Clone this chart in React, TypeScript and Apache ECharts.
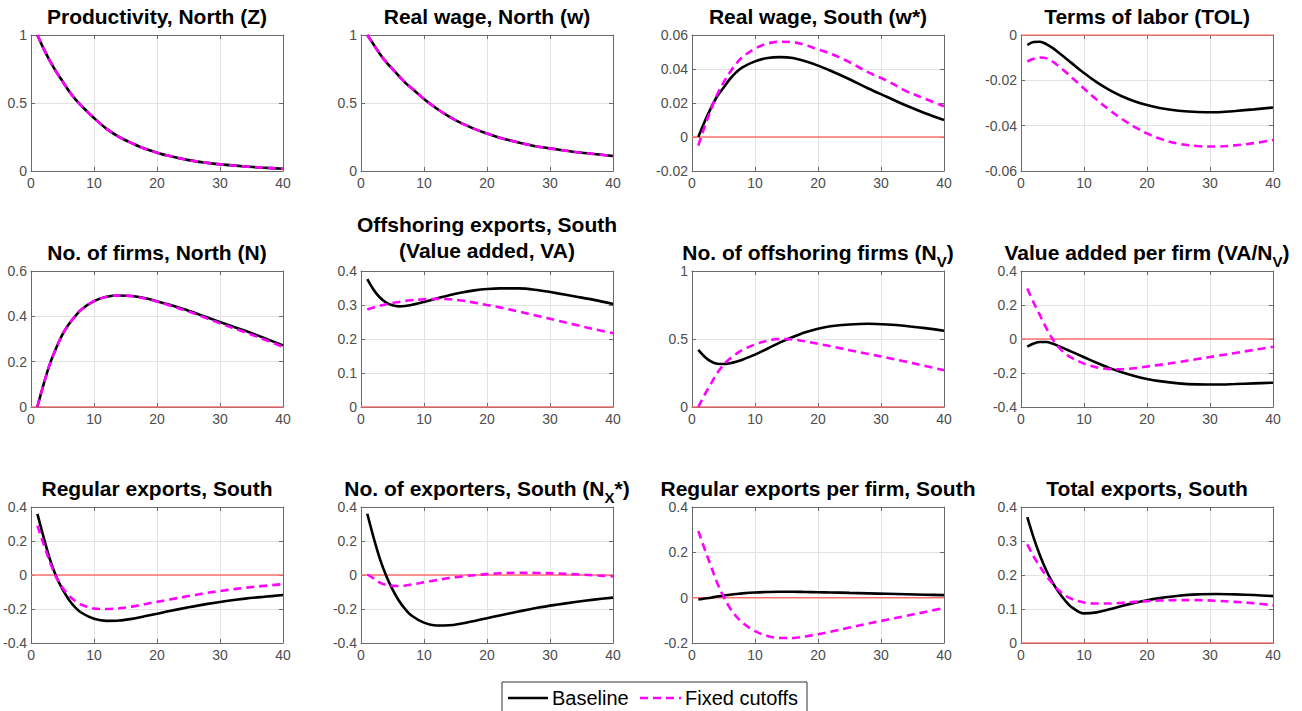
import React, { useEffect, useRef } from 'react';
import * as echarts from 'echarts';

// Quarters after the shock (sample points)
const PERIODS = [1, 2, 3, 4, 5, 6, 7, 8, 10, 12, 14, 16, 18, 20, 22, 25, 28, 31, 34, 37, 40];

const Z_BASE = [1, 0.9, 0.81, 0.73, 0.66, 0.59, 0.53, 0.48, 0.39, 0.31, 0.25, 0.205, 0.165, 0.135, 0.11, 0.08, 0.06, 0.045, 0.033, 0.024, 0.016];
const Z_FIXED = [1, 0.9, 0.81, 0.73, 0.66, 0.59, 0.53, 0.48, 0.39, 0.31, 0.25, 0.205, 0.165, 0.135, 0.11, 0.08, 0.06, 0.045, 0.033, 0.024, 0.016];

const W_BASE = [1, 0.93, 0.86, 0.8, 0.75, 0.7, 0.65, 0.61, 0.53, 0.46, 0.4, 0.35, 0.31, 0.275, 0.245, 0.21, 0.18, 0.16, 0.14, 0.125, 0.11];
const W_FIXED = [1, 0.93, 0.86, 0.8, 0.75, 0.7, 0.65, 0.61, 0.53, 0.46, 0.4, 0.35, 0.31, 0.275, 0.245, 0.21, 0.18, 0.16, 0.14, 0.125, 0.11];

const WS_BASE = [0.0, 0.009, 0.017, 0.024, 0.029, 0.034, 0.038, 0.041, 0.0445, 0.0465, 0.047, 0.0465, 0.0445, 0.042, 0.039, 0.034, 0.0285, 0.0235, 0.0185, 0.014, 0.01];
const WS_FIXED = [-0.005, 0.006, 0.016, 0.025, 0.032, 0.038, 0.043, 0.047, 0.052, 0.055, 0.056, 0.0558, 0.054, 0.0515, 0.049, 0.044, 0.038, 0.033, 0.027, 0.0225, 0.018];

const TOL_BASE = [-0.0044, -0.0031, -0.003, -0.004, -0.0057, -0.0078, -0.01, -0.0123, -0.0168, -0.0208, -0.0242, -0.027, -0.0292, -0.0309, -0.0322, -0.0334, -0.034, -0.0341, -0.0335, -0.0328, -0.032];
const TOL_FIXED = [-0.0117, -0.0105, -0.0099, -0.0102, -0.0117, -0.0138, -0.0161, -0.0186, -0.0236, -0.0285, -0.033, -0.037, -0.0405, -0.0434, -0.0457, -0.048, -0.049, -0.0492, -0.0487, -0.0477, -0.0463];

const N_BASE = [0, 0.1, 0.19, 0.26, 0.32, 0.365, 0.4, 0.43, 0.467, 0.486, 0.492, 0.49, 0.481, 0.467, 0.451, 0.425, 0.395, 0.365, 0.336, 0.305, 0.272];
const N_FIXED = [0, 0.1, 0.19, 0.26, 0.32, 0.365, 0.4, 0.43, 0.467, 0.486, 0.492, 0.489, 0.479, 0.465, 0.448, 0.421, 0.39, 0.359, 0.329, 0.298, 0.265];

const VA_BASE = [0.376, 0.345, 0.322, 0.307, 0.299, 0.296, 0.297, 0.3, 0.309, 0.319, 0.329, 0.337, 0.343, 0.347, 0.349, 0.349, 0.344, 0.335, 0.325, 0.315, 0.303];
const VA_FIXED = [0.287, 0.293, 0.298, 0.302, 0.306, 0.309, 0.312, 0.314, 0.317, 0.318, 0.317, 0.313, 0.307, 0.3, 0.293, 0.281, 0.268, 0.255, 0.242, 0.229, 0.217];

const NV_BASE = [0.42, 0.37, 0.335, 0.318, 0.316, 0.322, 0.333, 0.348, 0.385, 0.43, 0.475, 0.515, 0.55, 0.576, 0.594, 0.607, 0.612, 0.607, 0.596, 0.58, 0.561];
const NV_FIXED = [0, 0.09, 0.17, 0.25, 0.31, 0.355, 0.39, 0.42, 0.46, 0.488, 0.5, 0.497, 0.483, 0.465, 0.447, 0.418, 0.39, 0.362, 0.333, 0.302, 0.27];

const VAPF_BASE = [-0.045, -0.027, -0.018, -0.018, -0.027, -0.042, -0.058, -0.074, -0.107, -0.14, -0.17, -0.195, -0.217, -0.235, -0.248, -0.261, -0.267, -0.268, -0.265, -0.261, -0.257];
const VAPF_FIXED = [0.297, 0.215, 0.14, 0.065, 0.0, -0.05, -0.085, -0.11, -0.145, -0.167, -0.177, -0.178, -0.172, -0.162, -0.152, -0.136, -0.118, -0.1, -0.082, -0.064, -0.046];

const RX_BASE = [0.36, 0.22, 0.09, -0.01, -0.085, -0.145, -0.19, -0.222, -0.258, -0.27, -0.268, -0.258, -0.243, -0.228, -0.212, -0.19, -0.17, -0.153, -0.139, -0.128, -0.118];
const RX_FIXED = [0.29, 0.18, 0.075, -0.015, -0.075, -0.12, -0.153, -0.175, -0.197, -0.2, -0.196, -0.186, -0.172, -0.158, -0.144, -0.124, -0.105, -0.089, -0.075, -0.064, -0.054];

const NX_BASE = [0.36, 0.22, 0.095, -0.005, -0.085, -0.15, -0.2, -0.238, -0.28, -0.297, -0.296, -0.285, -0.27, -0.254, -0.238, -0.215, -0.193, -0.175, -0.159, -0.145, -0.133];
const NX_FIXED = [0.003, -0.02, -0.045, -0.058, -0.064, -0.065, -0.062, -0.056, -0.043, -0.03, -0.018, -0.009, -0.001, 0.005, 0.01, 0.013, 0.012, 0.009, 0.004, -0.002, -0.008];

const RXPF_BASE = [-0.008, -0.004, 0.0, 0.005, 0.009, 0.013, 0.016, 0.019, 0.023, 0.025, 0.026, 0.026, 0.025, 0.024, 0.023, 0.021, 0.019, 0.017, 0.015, 0.013, 0.011];
const RXPF_FIXED = [0.294, 0.215, 0.14, 0.065, 0.005, -0.045, -0.082, -0.11, -0.148, -0.169, -0.178, -0.178, -0.171, -0.161, -0.15, -0.132, -0.114, -0.097, -0.08, -0.063, -0.045];

const TX_BASE = [0.37, 0.31, 0.258, 0.214, 0.178, 0.149, 0.125, 0.106, 0.087, 0.09, 0.099, 0.109, 0.118, 0.126, 0.132, 0.139, 0.143, 0.144, 0.143, 0.141, 0.138];
const TX_FIXED = [0.29, 0.255, 0.225, 0.198, 0.175, 0.155, 0.14, 0.13, 0.119, 0.116, 0.116, 0.118, 0.121, 0.123, 0.125, 0.126, 0.126, 0.124, 0.121, 0.117, 0.111];

const TITLES = [
  '{m|Productivity, North (Z)}',
  '{m|Real wage, North (w)}',
  '{m|Real wage, South (w*)}',
  '{m|Terms of labor (TOL)}',
  '{m|No. of firms, North (N)}',
  '{m|Offshoring exports, South}\n{m|(Value added, VA)}',
  '{m|No. of offshoring firms (N}{s|V}{m|)}',
  '{m|Value added per firm (VA/N}{s|V}{m|)}',
  '{m|Regular exports, South}',
  '{m|No. of exporters, South (N}{s|X}{m|*)}',
  '{m|Regular exports per firm, South}',
  '{m|Total exports, South}',
];

const BASE_SERIES = [Z_BASE, W_BASE, WS_BASE, TOL_BASE, N_BASE, VA_BASE, NV_BASE, VAPF_BASE, RX_BASE, NX_BASE, RXPF_BASE, TX_BASE];
const FIXED_SERIES = [Z_FIXED, W_FIXED, WS_FIXED, TOL_FIXED, N_FIXED, VA_FIXED, NV_FIXED, VAPF_FIXED, RX_FIXED, NX_FIXED, RXPF_FIXED, TX_FIXED];

const Y_MIN = [0, 0, -0.02, -0.06, 0, 0, 0, -0.4, -0.4, -0.4, -0.2, 0];
const Y_MAX = [1, 1, 0.06, 0, 0.6, 0.4, 1, 0.4, 0.4, 0.4, 0.4, 0.4];
const Y_STEP = [0.5, 0.5, 0.02, 0.02, 0.2, 0.1, 0.5, 0.2, 0.2, 0.2, 0.2, 0.1];
const HAS_ZERO_LINE = [false, false, true, true, true, true, true, true, true, true, true, true];

const LEGEND_NAMES = ['Baseline', 'Fixed cutoffs'];

const FONT = '"Liberation Sans", Arial, Helvetica, sans-serif';
const AX = '#6a6a6a';
const GRID_C = '#e3e3e3';
const LAB = '#4d4d4d';
const BASE_COLOR = '#000000';
const FIXED_COLOR = '#ff00ff';
const DASH = [8, 5];

const COL_LEFT = [31, 361, 692, 1021];
const ROW_TOP = [35, 271, 507];
const PW = 252;
const PH = 136;
const TITLE_TOP = [6, 242, 478];

export default function App() {
  const ref = useRef<HTMLDivElement>(null);
  useEffect(() => {
    document.body.style.margin = '0';
    if (!ref.current) return;
    const chart = echarts.init(ref.current, undefined, { renderer: 'svg' });

    const grids: any[] = [];
    const xAxes: any[] = [];
    const yAxes: any[] = [];
    const series: any[] = [];
    const titles: any[] = [];

    const rich = {
      m: { fontSize: 21, fontWeight: 'bold', color: '#000', fontFamily: FONT, verticalAlign: 'top', lineHeight: 26 },
      s: { fontSize: 15, fontWeight: 'bold', color: '#000', fontFamily: FONT, verticalAlign: 'top', lineHeight: 26, padding: [12, 0, 0, 0] },
    };

    TITLES.forEach((t, i) => {
      const r = Math.floor(i / 4);
      const c = i % 4;
      grids.push({ left: COL_LEFT[c], top: ROW_TOP[r], width: PW, height: PH, show: false });
      const tickCommon = { show: true, inside: true, length: 4, lineStyle: { color: AX } };
      const lineCommon = { show: true, onZero: false, lineStyle: { color: AX, width: 1 } };
      xAxes.push({
        gridIndex: i, type: 'value', min: 0, max: 40, interval: 10, position: 'bottom',
        axisLine: lineCommon, axisTick: tickCommon,
        axisLabel: { color: LAB, fontSize: 14, margin: 5, fontFamily: FONT },
        splitLine: { show: true, lineStyle: { color: GRID_C, width: 1 } },
      });
      xAxes.push({
        gridIndex: i, type: 'value', min: 0, max: 40, interval: 10, position: 'top',
        axisLine: lineCommon, axisTick: tickCommon, axisLabel: { show: false }, splitLine: { show: false },
      });
      yAxes.push({
        gridIndex: i, type: 'value', min: Y_MIN[i], max: Y_MAX[i], interval: Y_STEP[i], position: 'left',
        axisLine: lineCommon, axisTick: tickCommon,
        axisLabel: { color: LAB, fontSize: 14, margin: 4, fontFamily: FONT },
        splitLine: { show: true, lineStyle: { color: GRID_C, width: 1 } },
      });
      yAxes.push({
        gridIndex: i, type: 'value', min: Y_MIN[i], max: Y_MAX[i], interval: Y_STEP[i], position: 'right',
        axisLine: lineCommon, axisTick: tickCommon, axisLabel: { show: false }, splitLine: { show: false },
      });

      if (HAS_ZERO_LINE[i]) {
        series.push({
          type: 'line', name: 'zero', xAxisIndex: 2 * i, yAxisIndex: 2 * i, silent: true,
          data: [[0, 0], [40, 0]], symbol: 'none',
          lineStyle: { color: '#ff7070', width: 1.5 },
        });
      }
      series.push({
        type: 'line', name: LEGEND_NAMES[0], xAxisIndex: 2 * i, yAxisIndex: 2 * i,
        data: PERIODS.map((p, k) => [p, BASE_SERIES[i][k]]),
        symbol: 'none', smooth: 0.35,
        lineStyle: { color: BASE_COLOR, width: 2.6 },
      });
      series.push({
        type: 'line', name: LEGEND_NAMES[1], xAxisIndex: 2 * i, yAxisIndex: 2 * i,
        data: PERIODS.map((p, k) => [p, FIXED_SERIES[i][k]]),
        symbol: 'none', smooth: 0.35,
        lineStyle: { color: FIXED_COLOR, width: 2.6, type: DASH },
      });

      titles.push({
        text: t,
        left: COL_LEFT[c] + PW / 2,
        top: i === 5 ? 214 : TITLE_TOP[r],
        textAlign: 'center',
        padding: 0,
        textStyle: { fontSize: 21, fontWeight: 'bold', color: '#000', fontFamily: FONT, rich },
      });
    });

    const legendY = 698;
    const graphic = [
      { type: 'rect', shape: { x: 502, y: 682, width: 305, height: 34 }, style: { fill: '#fff', stroke: '#333', lineWidth: 1 } },
      { type: 'line', shape: { x1: 508, y1: legendY, x2: 548, y2: legendY }, style: { stroke: BASE_COLOR, lineWidth: 2.6 } },
      { type: 'text', x: 552, y: legendY, style: { text: LEGEND_NAMES[0], fontSize: 20, fontFamily: FONT, fill: '#000', verticalAlign: 'middle', align: 'left' } },
      { type: 'line', shape: { x1: 640, y1: legendY, x2: 681, y2: legendY }, style: { stroke: FIXED_COLOR, lineWidth: 2.6, lineDash: DASH } },
      { type: 'text', x: 685, y: legendY, style: { text: LEGEND_NAMES[1], fontSize: 20, fontFamily: FONT, fill: '#000', verticalAlign: 'middle', align: 'left' } },
    ];

    chart.setOption({
      animation: false,
      backgroundColor: '#fff',
      title: titles,
      grid: grids,
      xAxis: xAxes,
      yAxis: yAxes,
      series,
      graphic,
    });
    return () => chart.dispose();
  }, []);
  return <div ref={ref} style={{ width: 1302, height: 711 }} />;
}
